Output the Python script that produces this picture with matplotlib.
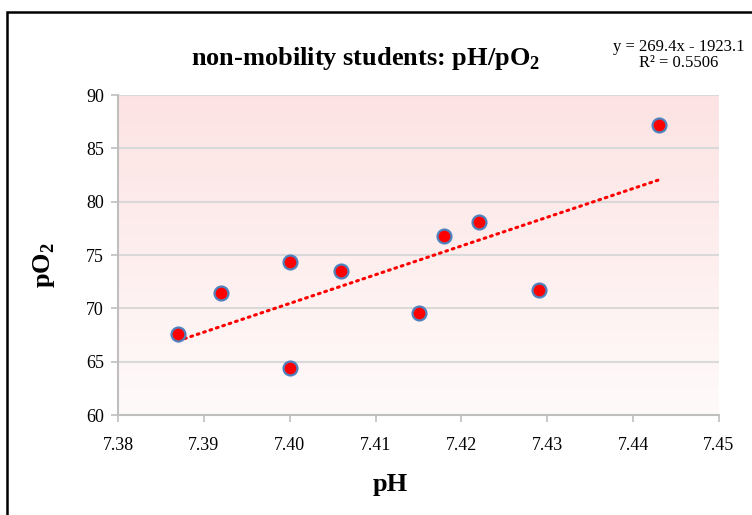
import numpy as np
import matplotlib
matplotlib.use("Agg")
import matplotlib.pyplot as plt
from matplotlib.colors import LinearSegmentedColormap
from matplotlib.patches import Rectangle

plt.rcParams['font.family'] = ['Liberation Serif', 'DejaVu Serif']
plt.rcParams['mathtext.fontset'] = 'custom'
plt.rcParams['mathtext.rm'] = 'Liberation Serif'
plt.rcParams['mathtext.bf'] = 'Liberation Serif:bold'

# measurements
ph = [7.387, 7.392, 7.400, 7.400, 7.406, 7.415, 7.418, 7.422, 7.429, 7.443]
po2 = [67.6, 71.4, 74.3, 64.4, 73.5, 69.6, 76.8, 78.1, 71.7, 87.2]

# linear trend as reported
slope = 269.4
intercept = -1923.1
r2 = 0.5506

xticks = [7.38, 7.39, 7.40, 7.41, 7.42, 7.43, 7.44, 7.45]
yticks = [60, 65, 70, 75, 80, 85, 90]

fig = plt.figure(figsize=(7.52, 5.15), dpi=100)
ax = fig.add_axes([118/752, 1 - 415/515, 601/752, 320/515])

# pink-to-white vertical gradient behind the plot
grad = np.linspace(0, 1, 256).reshape(-1, 1)
cmap = LinearSegmentedColormap.from_list('bg', ['#fffafa', '#fde3e3'])
ax.imshow(grad, aspect='auto', cmap=cmap, origin='lower',
          extent=[xticks[0], xticks[-1], yticks[0], yticks[-1]], zorder=0)

for y in yticks[1:]:
    ax.axhline(y, color='#d9d9d9', lw=1.5, zorder=1)

xs = np.array([min(ph), max(ph)])
ax.plot(xs, slope * xs + intercept, color='#ff0000', lw=2.2,
        ls=(0, (0.6, 1.6)), dash_capstyle='round', zorder=2)

ax.plot(ph, po2, 'o', ms=10, mfc='#ff0000', mec='#4f81bd', mew=1.6,
        zorder=3, clip_on=False)

ax.set_xlim(xticks[0], xticks[-1])
ax.set_ylim(yticks[0], yticks[-1])
ax.set_xticks(xticks)
ax.set_xticklabels(['%.2f' % v for v in xticks])
ax.set_yticks(yticks)
for s in ['top', 'right']:
    ax.spines[s].set_visible(False)
for s in ['left', 'bottom']:
    ax.spines[s].set_color('#bfbfbf')
    ax.spines[s].set_linewidth(1.5)
ax.tick_params(direction='out', length=5, width=1.2, color='#bfbfbf',
               labelsize=13)
ax.tick_params(axis='x', pad=11)
ax.tick_params(axis='y', pad=5)

fig.text(366/752, 1 - 58/515, 'non-mobility students: pH/pO$_\\mathbf{2}$',
         ha='center', va='center', fontsize=19, fontweight='bold')
fig.text(679/752, 1 - 55/515,
         'y = %.1fx - %.1f\nR² = %.4f' % (slope, -intercept, r2),
         ha='center', va='center', fontsize=12, linespacing=1.0)
fig.text(390/752, 1 - 484/515, 'pH', ha='center', va='center',
         fontsize=19, fontweight='bold')
fig.text(44/752, 1 - 265/515, 'pO$_\\mathbf{2}$', ha='center', va='center',
         rotation=90, fontsize=19, fontweight='bold')

# chart frame
fig.patches.append(Rectangle((7/752, -0.1), 1.2, 1 - 12/515 + 0.1,
                             transform=fig.transFigure, fill=False,
                             ec='black', lw=1.8))

fig.savefig('out.png', dpi=100)
